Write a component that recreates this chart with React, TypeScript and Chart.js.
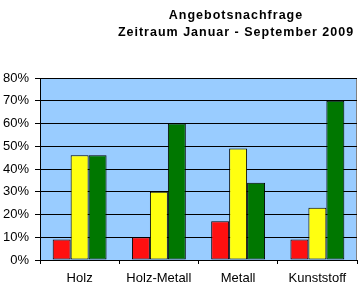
import React, { useEffect, useRef } from "react";
import { Chart, registerables } from "chart.js";

Chart.register(...registerables);

const categories = ["Holz", "Holz-Metall", "Metall", "Kunststoff"];
const seriesRed = [9, 10, 17, 9];
const seriesYellow = [46, 30, 49, 23];
const seriesGreen = [46, 60, 34, 70];
const titleLines = ["Angebotsnachfrage", "Zeitraum Januar - September 2009"];

const FONT = "'Liberation Sans', Arial, sans-serif";

const plotBg = {
  id: "plotBg",
  beforeDraw(chart: any) {
    const { ctx, chartArea: a } = chart;
    ctx.save();
    ctx.fillStyle = "#99CCFF";
    ctx.fillRect(a.left, a.top, a.right - a.left, a.bottom - a.top);
    ctx.strokeStyle = "#808080";
    ctx.lineWidth = 1;
    ctx.strokeRect(a.left + 0.5, a.top + 0.5, a.right - a.left - 1, a.bottom - a.top);
    ctx.restore();
  },
};

const titlePlugin = {
  id: "customTitle",
  afterDraw(chart: any) {
    const { ctx } = chart;
    ctx.save();
    ctx.font = `bold 12.5px ${FONT}`;
    (ctx as any).letterSpacing = "1px";
    ctx.fillStyle = "#000";
    ctx.textAlign = "center";
    ctx.textBaseline = "alphabetic";
    ctx.fillText(titleLines[0], 236, 19);
    ctx.fillText(titleLines[1], 236, 36);
    ctx.restore();
  },
};

export default function App() {
  const ref = useRef<HTMLCanvasElement>(null);
  useEffect(() => {
    document.body.style.margin = "0";
    const chart = new Chart(ref.current!, {
      type: "bar",
      data: {
        labels: categories,
        datasets: [
          { data: seriesRed, backgroundColor: "#FF1010", borderColor: "#000", borderWidth: 1, borderSkipped: false },
          { data: seriesYellow, backgroundColor: "#FFFF10", borderColor: "#000", borderWidth: 1, borderSkipped: false },
          { data: seriesGreen, backgroundColor: "#007700", borderColor: "#000", borderWidth: 1, borderSkipped: false },
        ],
      },
      options: {
        responsive: false,
        animation: false,
        layout: { padding: { top: 78, right: 4, left: 0, bottom: 0 } },
        datasets: { bar: { categoryPercentage: 0.68, barPercentage: 1 } },
        plugins: { legend: { display: false }, title: { display: false }, tooltip: { enabled: false } },
        scales: {
          x: {
            offset: true,
            grid: { offset: true, drawOnChartArea: false, color: "#000", tickLength: 4, tickColor: "#000" },
            border: { color: "#000" },
            ticks: { color: "#000", font: { family: FONT, size: 13 }, padding: 7 },
            afterFit(scale: any) { scale.height = 45; },
          },
          y: {
            min: 0,
            max: 80,
            grid: { color: "#000", tickLength: 5, tickColor: "#000" },
            border: { color: "#000" },
            ticks: { stepSize: 10, color: "#000", font: { family: FONT, size: 13 }, padding: 6, callback: (v: any) => v + "%" },
            afterFit(scale: any) { scale.width = 40; },
          },
        },
      },
      plugins: [plotBg, titlePlugin],
    });
    return () => chart.destroy();
  }, []);
  return <canvas ref={ref} width={361} height={305} style={{ display: "block" }} />;
}
